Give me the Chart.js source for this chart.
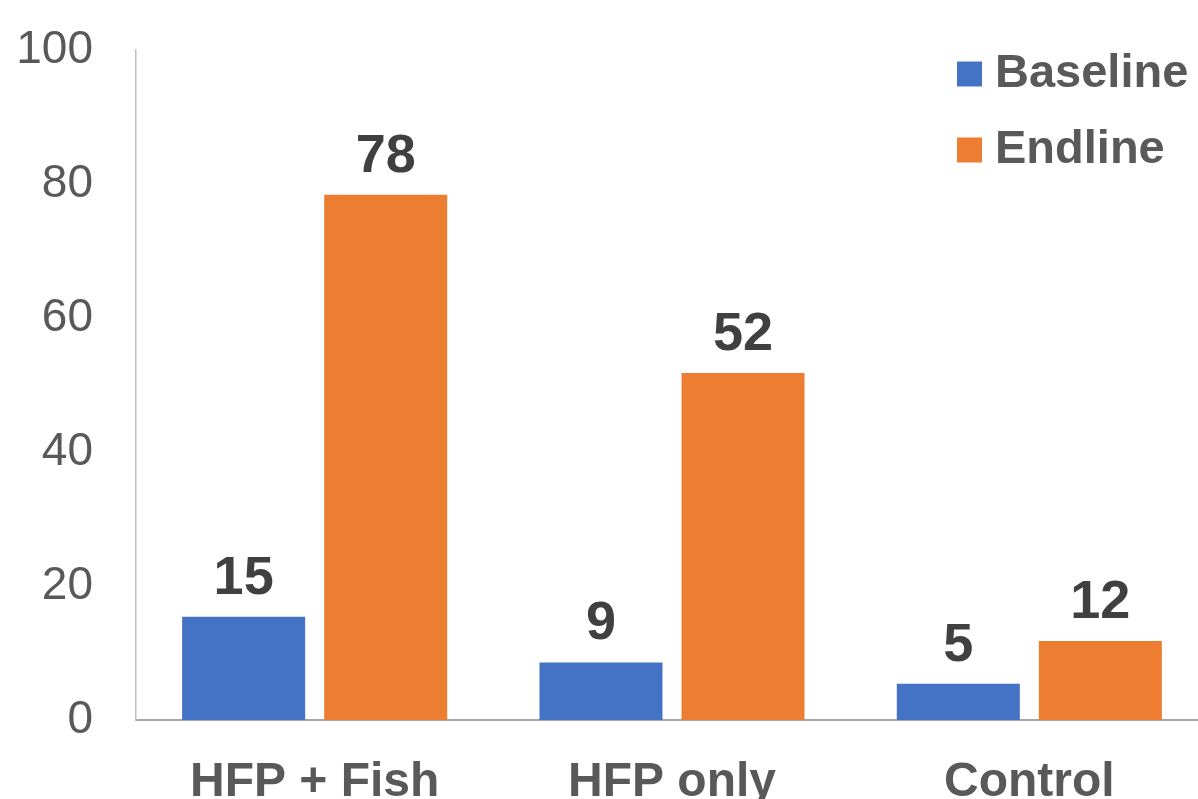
<!DOCTYPE html>
<html>
<head>
<meta charset="utf-8">
<script src="https://cdn.jsdelivr.net/npm/chart.js@4.4.1/dist/chart.umd.min.js"></script>
<style>
  html, body { margin: 0; padding: 0; background: #fff; overflow: hidden; }
  #frame { width: 1198px; height: 799px; overflow: hidden; position: relative; }
  #box { width: 1209px; height: 830px; position: absolute; left: 0; top: 0; }
</style>
</head>
<body>
<div id="frame"><div id="box"><canvas id="chart"></canvas></div></div>
<script>
const categories = ["HFP + Fish", "HFP only", "Control"];
const baseline = [15.4, 8.6, 5.4];
const endline = [78.4, 51.8, 11.8];
const seriesNames = ["Baseline", "Endline"];
const yMin = 0, yMax = 100, yStep = 20;

const FONT = "'Liberation Sans', Arial, sans-serif";
const BLUE = "#4472C4", ORANGE = "#ED7D31";

// value labels above each bar
const valueLabels = {
  id: "valueLabels",
  afterDatasetsDraw(chart) {
    const ctx = chart.ctx;
    ctx.save();
    ctx.font = "bold 54px " + FONT;
    ctx.fillStyle = "#404040";
    ctx.textAlign = "center";
    ctx.textBaseline = "alphabetic";
    chart.data.datasets.forEach((ds, i) => {
      chart.getDatasetMeta(i).data.forEach((bar, j) => {
        ctx.fillText(String(Math.round(ds.data[j])), bar.x, bar.y - 23);
      });
    });
    ctx.restore();
  }
};

// stacked legend in the top-right corner
const cornerLegend = {
  id: "cornerLegend",
  afterDraw(chart) {
    const ctx = chart.ctx;
    ctx.save();
    ctx.font = "bold 47px " + FONT;
    ctx.textBaseline = "middle";
    chart.data.datasets.forEach((ds, i) => {
      const cy = 74 + i * 76;
      ctx.fillStyle = ds.backgroundColor;
      ctx.fillRect(957, cy - 12.5, 25, 25);
      ctx.fillStyle = "#595959";
      ctx.fillText(ds.label, 995, cy);
    });
    ctx.restore();
  }
};

new Chart(document.getElementById("chart").getContext("2d"), {
  type: "bar",
  data: {
    labels: categories,
    datasets: [
      { label: seriesNames[0], data: baseline, backgroundColor: BLUE, categoryPercentage: 0.795, barPercentage: 0.866 },
      { label: seriesNames[1], data: endline, backgroundColor: ORANGE, categoryPercentage: 0.795, barPercentage: 0.866 }
    ]
  },
  options: {
    responsive: true,
    maintainAspectRatio: false,
    animation: false,
    layout: { padding: { top: 50, left: 16, right: 1, bottom: 0 } },
    plugins: { legend: { display: false }, tooltip: { enabled: false } },
    scales: {
      x: {
        grid: { display: false, drawTicks: false },
        border: { color: "#a6a6a6", width: 2 },
        ticks: { color: "#595959", padding: 34, font: { family: FONT, size: 48, weight: "bold" } },
        afterFit(s) { s.height = 110; }
      },
      y: {
        min: yMin, max: yMax,
        grid: { display: false, drawTicks: false },
        border: { color: "#bfbfbf", width: 1.5 },
        ticks: { stepSize: yStep, color: "#595959", padding: 43, font: { family: FONT, size: 46 } },
        afterFit(s) { s.width = 120; s.paddingTop = 0; s.paddingBottom = 0; }
      }
    }
  },
  plugins: [valueLabels, cornerLegend]
});
</script>
</body>
</html>
